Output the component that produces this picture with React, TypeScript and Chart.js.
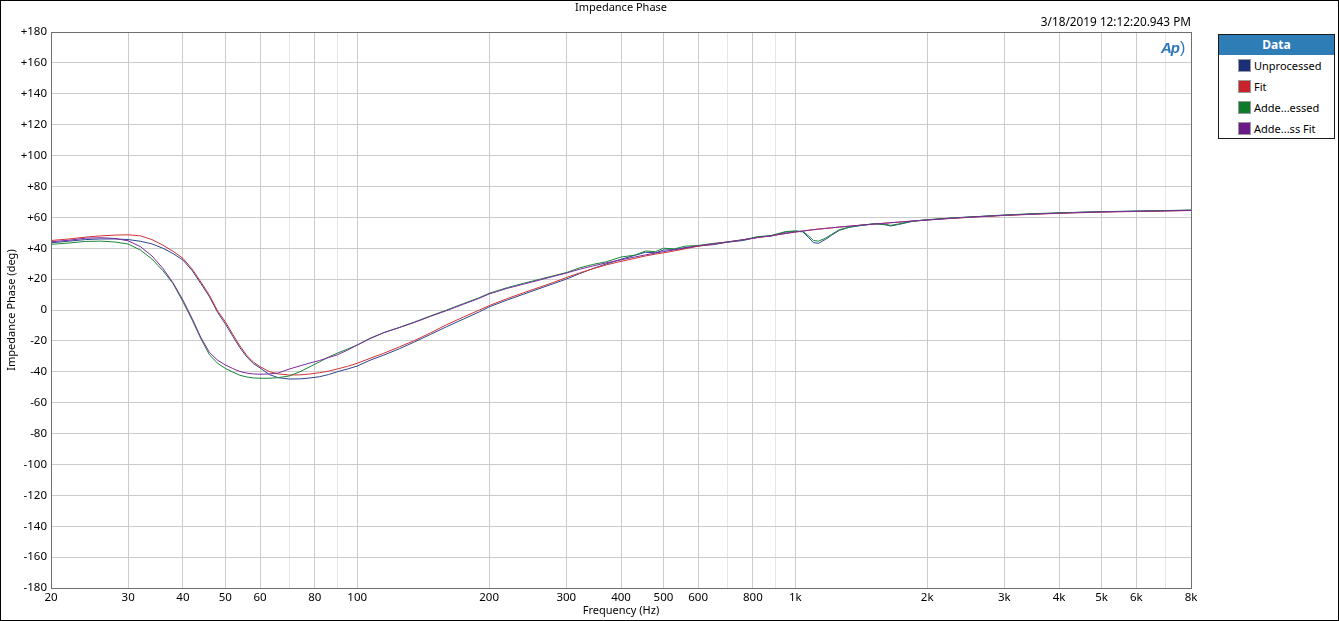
import React, { useEffect, useRef } from "react";
import { Chart, registerables } from "chart.js";

Chart.register(...registerables);

const FONT = "'Noto Sans', 'Open Sans', sans-serif";

// Frequency points (Hz)
const freqs = [
  20, 22, 24, 26, 28, 30, 32, 34, 36, 38,
  40, 42, 44, 46, 48, 50, 52, 54, 56, 58,
  60, 63, 66, 70, 74, 78, 82, 86, 90, 95,
  100, 107, 115, 125, 135, 147, 160, 175, 190, 200,
  220, 240, 260, 280, 300, 322, 345, 370, 400, 430,
  455, 480, 500, 530, 560, 600, 650, 700, 760, 820,
  880, 950, 1000, 1040, 1070, 1100, 1130, 1170, 1210, 1260,
  1330, 1420, 1520, 1600, 1650, 1720, 1850, 2000, 2300, 2600,
  3000, 3500, 4000, 4500, 5000, 6000, 7000, 8000,
];

// Impedance phase (deg)
const unprocessed = [
  43.5, 44.6, 45.6, 46.0, 46.0, 45.6, 44.5, 42.8, 40.0, 36.5,
  32.4, 25.5, 17.0, 8.5, -1.5, -9.0, -17.0, -24.5, -30.5, -34.8,
  -37.5, -41.8, -43.8, -44.7, -44.6, -44.0, -43.2, -41.8, -40.0, -38.2,
  -36.3, -32.5, -29.2, -25.0, -20.7, -15.8, -10.8, -5.8, -1.2, 2.0,
  6.5, 10.3, 13.8, 17.0, 20.0, 23.6, 26.8, 29.8, 32.8, 35.4,
  37.4, 37.0, 38.8, 39.2, 40.4, 41.5, 42.3, 43.9, 45.0, 47.2,
  47.8, 50.3, 51.0, 50.6, 47.2, 43.6, 43.2, 45.6, 48.4, 51.6,
  53.6, 54.8, 55.8, 55.2, 54.4, 55.4, 57.4, 58.3, 59.6, 60.4,
  61.4, 62.2, 62.8, 63.3, 63.6, 64.0, 64.3, 64.6,
];

const fit = [
  45.0, 46.0, 47.2, 48.0, 48.5, 48.7, 48.0, 45.6, 42.0, 38.0,
  33.5, 26.5, 18.0, 9.5, -0.5, -7.6, -15.8, -23.3, -29.5, -33.8,
  -36.7, -39.9, -41.4, -42.1, -42.0, -41.4, -40.6, -39.6, -38.2, -36.5,
  -34.5, -31.3, -28.0, -23.8, -19.8, -14.8, -9.5, -4.5, 0.0, 2.8,
  7.4, 11.2, 14.6, 17.8, 21.0, 24.0, 26.7, 29.2, 31.5, 33.4,
  35.0, 36.2, 37.0, 38.3, 39.6, 41.3, 42.7, 44.0, 45.5, 46.9,
  48.1, 49.6, 50.5, 51.1, 51.6, 52.0, 52.4, 52.8, 53.2, 53.7,
  54.3, 55.0, 55.7, 56.2, 56.5, 56.9, 57.6, 58.3, 59.4, 60.3,
  61.2, 62.0, 62.6, 63.0, 63.4, 63.8, 64.1, 64.4,
];

const addedProcessed = [
  42.5, 43.4, 44.4, 44.6, 44.0, 42.7, 38.8, 33.0, 25.5, 17.0,
  5.4, -6.5, -18.8, -29.0, -34.5, -37.8, -40.2, -42.3, -43.4, -44.0,
  -44.2, -44.2, -43.8, -42.7, -40.0, -36.7, -33.6, -30.5, -28.0, -25.3,
  -22.7, -18.3, -14.6, -11.2, -7.8, -3.8, 0.0, 4.2, 8.0, 10.8,
  14.5, 17.3, 19.8, 22.1, 24.2, 27.3, 29.5, 31.2, 34.3, 35.5,
  38.2, 37.8, 40.0, 39.6, 41.3, 41.8, 43.1, 44.0, 45.4, 47.5,
  48.2, 50.8, 51.2, 50.9, 48.2, 45.0, 44.6, 46.4, 49.0, 52.0,
  53.7, 55.0, 55.9, 55.5, 54.8, 55.7, 57.5, 58.5, 59.7, 60.5,
  61.5, 62.4, 62.9, 63.3, 63.7, 64.0, 64.4, 64.7,
];

const addedFit = [
  44.2, 45.2, 46.5, 46.8, 46.3, 44.8, 41.0, 35.0, 27.0, 17.5,
  6.5, -5.5, -18.0, -27.5, -32.5, -35.6, -37.9, -39.8, -40.9, -41.4,
  -41.6, -41.4, -40.8, -38.2, -36.2, -34.3, -32.7, -30.8, -29.1, -26.0,
  -22.7, -18.5, -14.7, -11.3, -8.1, -4.1, -0.4, 3.8, 7.6, 10.4,
  14.0, 16.8, 19.3, 21.7, 23.9, 26.4, 28.5, 30.5, 32.5, 34.3,
  35.7, 36.9, 37.8, 39.0, 40.1, 41.5, 42.9, 44.1, 45.5, 46.9,
  48.1, 49.5, 50.5, 51.1, 51.6, 52.0, 52.4, 52.8, 53.2, 53.7,
  54.3, 55.0, 55.7, 56.2, 56.5, 56.9, 57.6, 58.3, 59.5, 60.4,
  61.3, 62.1, 62.7, 63.2, 63.5, 63.9, 64.2, 64.5,
];

const seriesNames = ["Unprocessed", "Fit", "Adde...essed", "Adde...ss Fit"];
const seriesColors = ["#1b2f78", "#c8222a", "#0e7a2c", "#6a1b87"];
const lineColors = ["#2a4592", "#d23434", "#1a8638", "#7e2aa0"];

const xTickValues = [20, 30, 40, 50, 60, 70, 80, 90, 100, 200, 300, 400, 500, 600, 700, 800, 900, 1000, 2000, 3000, 4000, 5000, 6000, 7000, 8000];
const xTickLabels = ["20", "30", "40", "50", "60", "", "80", "", "100", "200", "300", "400", "500", "600", "", "800", "", "1k", "2k", "3k", "4k", "5k", "6k", "", "8k"];
const xMinorTicks = [70, 90, 700, 900, 7000];

const yMin = -180;
const yMax = 180;
const yStep = 20;

const chartTitle = "Impedance Phase";
const timestamp = "3/18/2019 12:12:20.943 PM";

const frameBorder = {
  id: "frameBorder",
  afterDraw(chart: any) {
    const { ctx, chartArea: a } = chart;
    ctx.save();
    ctx.strokeStyle = "#6f6f6f";
    ctx.lineWidth = 1;
    ctx.strokeRect(Math.round(a.left) + 0.5, Math.round(a.top) + 0.5, Math.round(a.right - a.left), Math.round(a.bottom - a.top));
    ctx.restore();
  },
};

export default function App() {
  const ref = useRef<HTMLCanvasElement>(null);

  useEffect(() => {
    document.body.style.margin = "0";
    const seriesValues = [unprocessed, fit, addedProcessed, addedFit];
    const orders = [4, 3, 2, 1];
    const chart = new Chart(ref.current as HTMLCanvasElement, {
      type: "line",
      data: {
        datasets: seriesValues.map((vals, k) => ({
          label: seriesNames[k],
          data: freqs.map((f, i) => ({ x: f, y: vals[i] })),
          borderColor: lineColors[k],
          backgroundColor: lineColors[k],
          borderWidth: 1,
          pointRadius: 0,
          tension: 0,
          fill: false,
          order: orders[k],
        })),
      },
      options: {
        animation: false,
        responsive: false,
        maintainAspectRatio: false,
        layout: { padding: { left: 0, right: 148, top: 32, bottom: 0 } },
        plugins: {
          legend: { display: false },
          title: { display: false },
          tooltip: { enabled: false },
        },
        scales: {
          x: {
            type: "logarithmic",
            min: 20,
            max: 8000,
            afterBuildTicks: (s: any) => {
              s.ticks = xTickValues.map((v) => ({ value: v }));
            },
            afterFit: (s: any) => {
              s.height = 33;
            },
            ticks: {
              autoSkip: false,
              maxRotation: 0,
              minRotation: 0,
              padding: 3,
              color: "#000",
              font: { family: FONT, size: 11.5 },
              callback: (v: any) => {
                const i = xTickValues.indexOf(Number(v));
                return i >= 0 ? xTickLabels[i] : "";
              },
            },
            grid: {
              drawTicks: false,
              lineWidth: 1,
              color: (ctx: any) =>
                ctx.tick && xMinorTicks.includes(ctx.tick.value) ? "#e6e6e6" : "#cbcbcb",
            },
            border: { color: "#6f6f6f" },
            title: {
              display: true,
              text: "Frequency (Hz)",
              color: "#000",
              font: { family: FONT, size: 11 },
              padding: { top: 0, bottom: 4 },
            },
          },
          y: {
            type: "linear",
            min: yMin,
            max: yMax,
            afterFit: (s: any) => {
              s.width = 51;
            },
            ticks: {
              stepSize: yStep,
              padding: 4,
              color: "#000",
              font: { family: FONT, size: 11.5 },
              callback: (v: any) => (Number(v) > 0 ? "+" + v : String(v)),
            },
            grid: { drawTicks: false, color: "#cbcbcb", lineWidth: 1 },
            border: { color: "#6f6f6f" },
            title: {
              display: true,
              text: "Impedance Phase (deg)",
              color: "#000",
              font: { family: FONT, size: 11 },
              padding: { top: 5, bottom: 0 },
            },
          },
        },
      },
      plugins: [frameBorder],
    } as any);
    return () => chart.destroy();
  }, []);

  const textStyle: React.CSSProperties = {
    position: "absolute",
    fontFamily: FONT,
    fontSize: 11,
    lineHeight: "14px",
    color: "#000",
    whiteSpace: "nowrap",
  };

  return (
    <div style={{ position: "relative", width: 1339, height: 621, background: "#fff", overflow: "hidden" }}>
      <canvas ref={ref} width={1339} height={621} style={{ position: "absolute", left: 0, top: 0, width: 1339, height: 621 }} />
      <div style={{ ...textStyle, left: 0, top: 0, width: 1242, textAlign: "center" }}>{chartTitle}</div>
      <div style={{ ...textStyle, right: 1339 - 1191, top: 14, fontSize: 11.8, textAlign: "right" }}>{timestamp}</div>
      <div
        style={{
          position: "absolute",
          left: 1161,
          top: 39,
          fontFamily: "'Liberation Sans', sans-serif",
          fontStyle: "italic",
          fontWeight: 700,
          fontSize: 15,
          lineHeight: "18px",
          color: "#2a75bb",
          letterSpacing: -1,
        }}
      >
        Ap<span style={{ fontWeight: 400, fontSize: 16, fontStyle: "normal", marginLeft: 1 }}>)</span>
      </div>
      <div
        style={{
          position: "absolute",
          left: 1218,
          top: 34,
          width: 115,
          height: 103,
          border: "1px solid #1a1a1a",
          background: "#fff",
          fontFamily: FONT,
          fontSize: 11,
        }}
      >
        <div
          style={{
            height: 20,
            lineHeight: "20px",
            background: "#2f7db6",
            color: "#fff",
            fontWeight: 700,
            fontSize: 12,
            textAlign: "center",
          }}
        >
          Data
        </div>
        {seriesNames.map((n, i) => (
          <div key={n} style={{ position: "relative", height: 21, lineHeight: "21px" }}>
            <span
              style={{
                position: "absolute",
                left: 19,
                top: 4,
                width: 11,
                height: 11,
                background: seriesColors[i],
                border: "1px solid #9a9a9a",
              }}
            />
            <span style={{ position: "absolute", left: 35, top: 0, color: "#000" }}>{n}</span>
          </div>
        ))}
      </div>
      <div style={{ position: "absolute", left: 0, top: 0, width: 1339, height: 621, border: "1px solid #000", boxSizing: "border-box", pointerEvents: "none" }} />
    </div>
  );
}
